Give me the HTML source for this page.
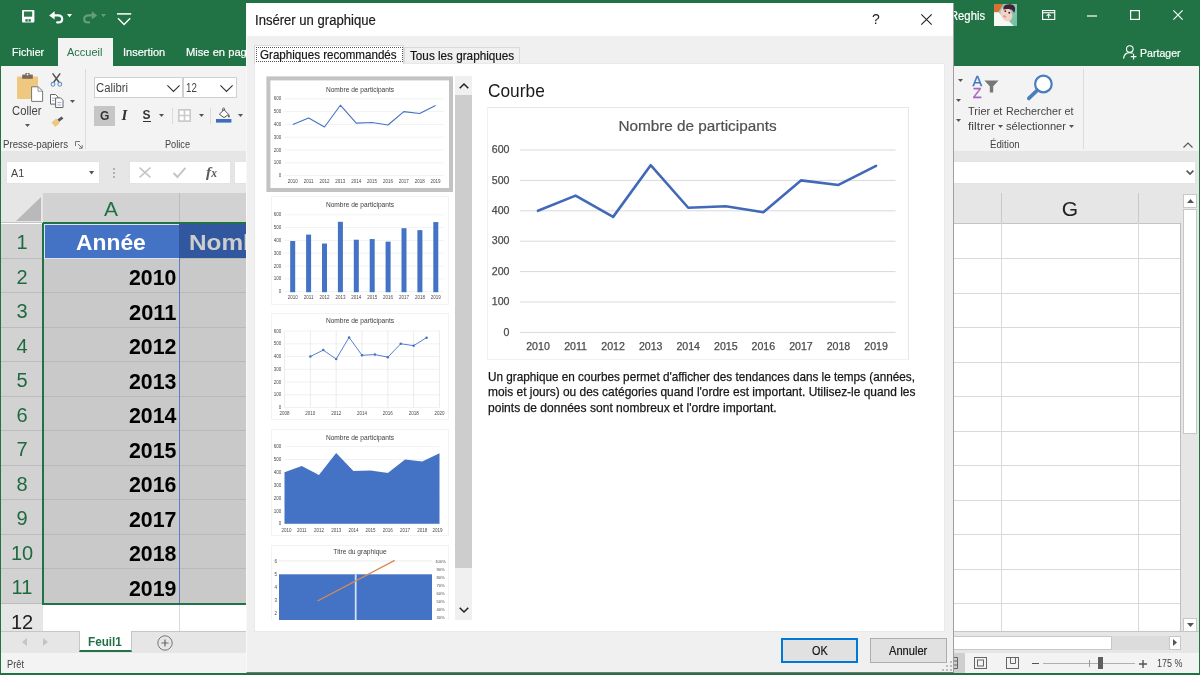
<!DOCTYPE html>
<html lang="fr">
<head>
<meta charset="utf-8">
<title>Insérer un graphique</title>
<style>
*{box-sizing:border-box;margin:0;padding:0}
html,body{width:1200px;height:675px;overflow:hidden;background:#217346;font-family:"Liberation Sans",sans-serif;}
#app{position:relative;width:1200px;height:675px;overflow:hidden;background:#217346;filter:blur(0.45px);}
.abs{position:absolute}
.t{position:absolute;white-space:nowrap;line-height:1;}
svg{position:absolute;overflow:visible}
/* ---------- Excel chrome ---------- */
#ribbon{left:1px;top:66px;width:1198px;height:85px;background:#f3f3f3}
#fbar{left:1px;top:151px;width:1198px;height:43px;background:#e6e6e6}
#tabAccueil{left:58px;top:38px;width:55px;height:29px;background:#f3f3f3}
.wt{color:#fff;font-size:12px;-webkit-text-stroke:.2px #fff}
.rt{color:#444;font-size:12px}
.vsep{position:absolute;width:1px;background:#dcdcdc}
.box{position:absolute;background:#fff;border:1px solid #d0d0d0}
/* ---------- grid ---------- */
#sheet{left:1px;top:193px;width:1198px;height:439px;background:#fff}
.colh{position:absolute;top:0;height:30.5px;background:#e6e6e6;border-right:1px solid #c9c9c9;border-bottom:1px solid #c4c4c4;color:#222;font-size:21px;text-align:center;line-height:32px}
.rowh{position:absolute;left:0;width:42px;height:34.5px;background:#d2d2d2;border-bottom:1px solid #bdbdbd;color:#217346;font-size:20px;text-align:center;line-height:36px}
.cellA{position:absolute;left:43px;width:135px;height:34.5px;background:#c9c9c9;border-bottom:1px solid #b9b9b9;font-weight:bold;font-size:21px;text-align:right;padding-right:3px;line-height:37px;color:#000}
.cellB{position:absolute;left:179px;width:80px;height:34.5px;background:#c9c9c9;border-bottom:1px solid #b9b9b9}
.hl{position:absolute;height:1px;background:#d9d9d9;left:953px;width:227px}
.vl{position:absolute;width:1px;background:#d9d9d9;top:223px;height:408px}
</style>
</head>
<body>
<div id="app">

<!-- ================= TITLE BAR ================= -->
<div class="abs" id="tabAccueil"></div>
<div class="abs" id="ribbon"></div>
<div class="abs" id="fbar"></div>

<!-- QAT icons -->
<svg style="left:21.8px;top:10.2px" width="12.4" height="12.6" viewBox="0 0 12.4 12.6"><rect x="0" y="0" width="12.4" height="12.6" rx="1" fill="#fff"/><rect x="2" y="1.5" width="8.2" height="5.2" fill="#2a7a4e"/><rect x="3.4" y="9.2" width="5.4" height="2.4" fill="#217346"/><rect x="5.7" y="9.2" width="0.9" height="2.4" fill="#fff"/></svg>
<svg style="left:48.6px;top:10.6px" width="14.4" height="12.6" viewBox="0 0 14.4 12.6"><path d="M0.2 4.4L5.6 0.2V8.6z" fill="#fff"/><path d="M4.6 4.4H8.8C11.6 4.4 13.2 6 13.2 8C13.2 10 11.8 11.4 9.4 11.4H8.2" fill="none" stroke="#fff" stroke-width="2.2" stroke-linecap="round"/></svg>
<svg style="left:67.4px;top:14px" width="5" height="3.2" viewBox="0 0 5 3.2"><path d="M0 0h5l-2.5 3.2z" fill="#fff"/></svg>
<svg style="left:82.6px;top:10.6px;opacity:.3" width="14.4" height="12.6" viewBox="0 0 14.4 12.6"><path d="M14.2 4.4L8.8 0.2V8.6z" fill="#fff"/><path d="M9.8 4.4H5.6C2.8 4.4 1.2 6 1.2 8C1.2 10 2.6 11.4 5 11.4H6.2" fill="none" stroke="#fff" stroke-width="2.2" stroke-linecap="round"/></svg>
<svg style="left:101px;top:14px;opacity:.3" width="5" height="3.2" viewBox="0 0 5 3.2"><path d="M0 0h5l-2.5 3.2z" fill="#fff"/></svg>
<svg style="left:117px;top:12px" width="15" height="14" viewBox="0 0 15 14"><path d="M0 1.9h14.2" stroke="#fff" stroke-width="1.5"/><path d="M1 6.2l6.1 6.2L13.2 6.2" fill="none" stroke="#fff" stroke-width="1.4"/></svg>

<!-- ribbon tab names -->
<div class="t wt" style="left:12px;top:47px;font-size:11.5px;transform:scaleX(0.9331);transform-origin:0 0">Fichier</div>
<div class="t" style="left:67px;top:47px;font-size:11.5px;color:#217346;transform:scaleX(0.9576);transform-origin:0 0">Accueil</div>
<div class="t wt" style="left:123.3px;top:47px;font-size:11.5px;transform:scaleX(0.9567);transform-origin:0 0">Insertion</div>
<div class="t wt" style="left:186px;top:47px;font-size:11.5px;transform:scaleX(0.9704);transform-origin:0 0">Mise en page</div>

<!-- right side of title bar -->
<div class="t wt" style="left:950px;top:10px;font-size:12px;transform:scaleX(0.9370);transform-origin:0 0">Reghis</div>
<svg id="avatar" style="left:994px;top:3.8px;overflow:hidden" width="23" height="22.2" viewBox="0 0 23 22.2">
<defs><linearGradient id="avg" x1="0" y1="0" x2="1" y2="1"><stop offset="0" stop-color="#9ed0b4"/><stop offset="1" stop-color="#6fbfa6"/></linearGradient><filter id="avb" x="-10%" y="-10%" width="120%" height="120%"><feGaussianBlur stdDeviation="0.55"/></filter></defs>
<rect width="23" height="22.2" fill="url(#avg)"/>
<g filter="url(#avb)">
<path d="M0 0H9.5L4 8.4H0z" fill="#db6f35"/>
<path d="M0 8.2H4.5L8 12L19.5 22.2H0z" fill="#f6faf2"/>
<path d="M4 16L12 14L20 22.2H0V18z" fill="#f6faf2"/>
<ellipse cx="12.4" cy="10.4" rx="5.5" ry="7.3" transform="rotate(-28 12.4 10.4)" fill="#f2d2c8"/>
<path d="M9.4 3.6C10 0 17.8 -0.8 20.4 2.2C21.6 4.2 21.2 7.4 20 9C19.4 6.6 17.8 5.4 15.2 5C13 4.8 10.8 5 9.4 5.8z" fill="#43203a"/>
<circle cx="11.3" cy="7.1" r=".95" fill="#4a1f2c"/><circle cx="15.3" cy="8.8" r=".95" fill="#4a1f2c"/>
<ellipse cx="10.6" cy="12.4" rx="1.6" ry="1" transform="rotate(25 10.6 12.4)" fill="#dc8f8f"/>
</g></svg>
<svg style="left:1042px;top:10px" width="13.3" height="10" viewBox="0 0 14 11" preserveAspectRatio="none"><rect x="0.6" y="0.6" width="12.8" height="9.8" fill="none" stroke="#fff" stroke-width="1.2"/><path d="M0.6 3h12.8" stroke="#fff" stroke-width="1.2"/><path d="M7 9V4.6M4.8 6.6L7 4.4L9.2 6.6" fill="none" stroke="#fff" stroke-width="1.1"/></svg>
<svg style="left:1087px;top:15px" width="10" height="2" viewBox="0 0 10 2"><path d="M0 1h10" stroke="#fff" stroke-width="1.2"/></svg>
<svg style="left:1130px;top:10px" width="10" height="10" viewBox="0 0 10 10"><rect x="0.6" y="0.6" width="8.8" height="8.8" fill="none" stroke="#fff" stroke-width="1.2"/></svg>
<svg style="left:1173px;top:10px" width="10" height="10" viewBox="0 0 10 10"><path d="M0.4 0.4L9.6 9.6M9.6 0.4L0.4 9.6" stroke="#fff" stroke-width="1.2"/></svg>
<!-- Partager -->
<svg style="left:1123px;top:45px" width="14" height="15" viewBox="0 0 14 15"><circle cx="6.8" cy="4" r="3.3" fill="none" stroke="#fff" stroke-width="1.1"/><path d="M0.6 13.6C1 9.6 3.4 7.6 6.8 7.6C8 7.6 9 7.9 9.8 8.4" fill="none" stroke="#fff" stroke-width="1.1"/><path d="M10.6 8.8v5.6M7.8 11.6h5.6" stroke="#fff" stroke-width="1.1"/></svg>
<div class="t wt" style="left:1140.4px;top:47.5px;font-size:11.8px;transform:scaleX(0.8970);transform-origin:0 0">Partager</div>

<!-- ================= RIBBON LEFT ================= -->
<div id="rib-left">
<!-- paste -->
<svg style="left:17px;top:73px" width="27" height="30" viewBox="0 0 27 30"><rect x="0" y="3.4" width="21" height="22.6" rx="1" fill="#eec87e"/><rect x="5.2" y="1.6" width="10.6" height="4.2" fill="#7b6a58"/><rect x="8.4" y="0" width="4.2" height="3" fill="#7b6a58"/><path d="M14.6 13.8h6.6l4.4 4.2v10.4h-11z" fill="#fff" stroke="#777" stroke-width="1"/><path d="M21 14v4.2h4.4" fill="none" stroke="#888" stroke-width=".9"/><circle cx="10.5" cy="1.6" r="1" fill="#f3f3f3"/></svg>
<div class="t rt" style="left:12.4px;top:105px;font-size:12.5px;transform:scaleX(0.9005);transform-origin:0 0">Coller</div>
<svg style="left:25px;top:124px" width="5" height="3" viewBox="0 0 5 3"><path d="M0 0h5l-2.5 3z" fill="#555"/></svg>
<!-- scissors -->
<svg style="left:50px;top:73px" width="13" height="14" viewBox="0 0 13 14"><path d="M2.6 0.4L9.4 9.8M10.2 0.4L3.4 9.8" stroke="#505050" stroke-width="1.5" fill="none"/><circle cx="3" cy="11.3" r="1.9" fill="none" stroke="#6494cf" stroke-width="1.1"/><circle cx="9.8" cy="11.3" r="1.9" fill="none" stroke="#6494cf" stroke-width="1.1"/></svg>
<!-- copy -->
<svg style="left:50px;top:94px" width="14" height="14" viewBox="0 0 14 14"><path d="M0.5 0.5h5l2.4 2.4v7.2h-7.4z" fill="#fff" stroke="#666" stroke-width="1"/><path d="M5.6 3.9h5l2.4 2.4v7.2h-7.4z" fill="#fff" stroke="#666" stroke-width="1"/><path d="M2 4.2h3M2 6.6h2.4M7.4 8.6h3.8M7.4 11h3.8" stroke="#7e98c2" stroke-width=".8"/></svg>
<svg style="left:70px;top:100px" width="5" height="3" viewBox="0 0 5 3"><path d="M0 0h5l-2.5 3z" fill="#555"/></svg>
<!-- painter -->
<svg style="left:51px;top:116px" width="13" height="12" viewBox="0 0 13 12"><path d="M0.4 6.4L5.2 2.4L9 7L4.2 11z" fill="#eec87e"/><path d="M6.4 3.6L10.6 0.4L12.4 2.6L8.2 5.8z" fill="#555"/></svg>
<div class="t rt" style="left:3px;top:139px;font-size:10.6px;transform:scaleX(0.9118);transform-origin:0 0">Presse-papiers</div>
<svg style="left:75px;top:141px" width="8" height="8" viewBox="0 0 8 8"><path d="M0.5 5V0.5H5" fill="none" stroke="#777" stroke-width="1"/><path d="M3 3l4 4M7.2 4v3.2H4" fill="none" stroke="#777" stroke-width="1"/></svg>
<div class="vsep" style="left:85px;top:69px;height:80px"></div>
<!-- font boxes -->
<div class="box" style="left:94px;top:77px;width:89px;height:21px"></div>
<div class="box" style="left:183px;top:77px;width:54px;height:21px"></div>
<div class="t rt" style="left:96px;top:82px;font-size:12px;transform:scaleX(0.9409);transform-origin:0 0">Calibri</div>
<svg style="left:167px;top:85px" width="13" height="7" viewBox="0 0 13 7"><path d="M0.4 0.4L6.5 6.4L12.6 0.4" fill="none" stroke="#333" stroke-width="1.1"/></svg>
<div class="t rt" style="left:186px;top:82px;font-size:12px;transform:scaleX(0.8091);transform-origin:0 0">12</div>
<svg style="left:220px;top:85px" width="13" height="7" viewBox="0 0 13 7"><path d="M0.4 0.4L6.5 6.4L12.6 0.4" fill="none" stroke="#333" stroke-width="1.1"/></svg>
<!-- G I S -->
<div class="abs" style="left:94px;top:106px;width:21px;height:20px;background:#c6c6c6"></div>
<div class="t" style="left:100px;top:110px;font-size:12px;font-weight:bold;color:#333">G</div>
<div class="t" style="left:121.5px;top:108px;font-size:15px;font-weight:bold;font-style:italic;color:#333;font-family:'Liberation Serif',serif">I</div>
<div class="t" style="left:142.5px;top:110px;font-size:12px;font-weight:bold;color:#333;border-bottom:1px solid #333;padding-bottom:0;line-height:.92">S</div>
<svg style="left:159px;top:114px" width="5" height="3" viewBox="0 0 5 3"><path d="M0 0h5l-2.5 3z" fill="#555"/></svg>
<div class="vsep" style="left:172px;top:108px;height:16px"></div>
<svg style="left:178px;top:109px" width="13" height="13" viewBox="0 0 13 13"><path d="M0.8 0.8h11.4v11.4h-11.4zM6.5 0.8v11.4M0.8 6.5h11.4" fill="#fff" stroke="#cbcbcb" stroke-width="1.7"/></svg>
<svg style="left:199px;top:114px" width="5" height="3" viewBox="0 0 5 3"><path d="M0 0h5l-2.5 3z" fill="#555"/></svg>
<div class="vsep" style="left:210px;top:108px;height:16px"></div>
<svg style="left:216px;top:108px" width="16" height="15" viewBox="0 0 16 15"><rect x="0" y="11" width="15.4" height="3.6" fill="#3d6cc0"/><path d="M3.4 6.2L8 1.8L12.6 6.4L8 9.6z" fill="#fff" stroke="#555" stroke-width="1"/><path d="M6.6 3.2V0.8C6.6 -0.2 8.6 -0.2 8.6 0.8V2.4" fill="none" stroke="#555" stroke-width=".9"/><path d="M12.8 6.2C13.8 7.6 14.2 8.4 13.4 9.2C12.6 9.8 11.8 9 12 8z" fill="#555"/></svg>
<svg style="left:238px;top:114px" width="5" height="3" viewBox="0 0 5 3"><path d="M0 0h5l-2.5 3z" fill="#555"/></svg>
<div class="t rt" style="left:165px;top:139px;font-size:10.6px;transform:scaleX(0.8659);transform-origin:0 0">Police</div>
</div>

<!-- ================= RIBBON RIGHT ================= -->
<div id="rib-right">
<svg style="left:958px;top:79px" width="5" height="3" viewBox="0 0 5 3"><path d="M0 0h5l-2.5 3z" fill="#555"/></svg>
<svg style="left:956px;top:99px" width="5" height="3" viewBox="0 0 5 3"><path d="M0 0h5l-2.5 3z" fill="#555"/></svg>
<svg style="left:956px;top:119px" width="5" height="3" viewBox="0 0 5 3"><path d="M0 0h5l-2.5 3z" fill="#555"/></svg>
<div class="t" style="left:972.4px;top:73.5px;font-size:14.5px;color:#4478c0;-webkit-text-stroke:.35px #4478c0">A</div>
<div class="t" style="left:972.8px;top:86.3px;font-size:14.5px;color:#a866c4;-webkit-text-stroke:.35px #a866c4">Z</div>
<svg style="left:984px;top:80px" width="15" height="13" viewBox="0 0 15 13"><path d="M0.4 0.4h14.2l-5.4 5.8v6.2h-3.4v-6.2z" fill="#777"/></svg>
<svg style="left:1027px;top:74px" width="27" height="27" viewBox="0 0 27 27"><circle cx="16.4" cy="10" r="8.3" fill="#fff" stroke="#4a7dbd" stroke-width="2.2"/><path d="M10.2 16.4L1.8 24.4" stroke="#4a7dbd" stroke-width="3.6" stroke-linecap="round"/></svg>
<div class="t rt" style="left:968px;top:105.5px;font-size:11.8px;transform:scaleX(0.9314);transform-origin:0 0">Trier et</div>
<div class="t rt" style="left:1005.8px;top:105.5px;font-size:11.8px;transform:scaleX(0.9107);transform-origin:0 0">Rechercher et</div>
<div class="t rt" style="left:968px;top:120.5px;font-size:11.8px;transform:scaleX(1.0296);transform-origin:0 0">filtrer</div>
<svg style="left:998px;top:125px" width="5" height="3" viewBox="0 0 5 3"><path d="M0 0h5l-2.5 3z" fill="#555"/></svg>
<div class="t rt" style="left:1005.8px;top:120.5px;font-size:11.8px;transform:scaleX(0.9430);transform-origin:0 0">sélectionner</div>
<svg style="left:1069px;top:125px" width="5" height="3" viewBox="0 0 5 3"><path d="M0 0h5l-2.5 3z" fill="#555"/></svg>
<div class="t rt" style="left:990.3px;top:139px;font-size:10.6px;transform:scaleX(0.9163);transform-origin:0 0">Édition</div>
<div class="vsep" style="left:1083px;top:69px;height:80px"></div>
<svg style="left:1183px;top:142px" width="10" height="6" viewBox="0 0 10 6"><path d="M0.5 5.5L5 1L9.5 5.5" fill="none" stroke="#555" stroke-width="1.1"/></svg>
</div>

<!-- ================= FORMULA BAR ================= -->
<div id="formula">
<div class="box" style="left:5.8px;top:161px;width:94.4px;height:22.5px;border-color:#e3e3e3"></div>
<div class="t" style="left:10.8px;top:167.5px;font-size:11.5px;color:#444;transform:scaleX(0.9384);transform-origin:0 0">A1</div>
<svg style="left:88.5px;top:171px" width="5.2" height="3.4" viewBox="0 0 5.2 3.4"><path d="M0 0h5.2l-2.6 3.4z" fill="#555"/></svg>
<svg style="left:113px;top:168px" width="2" height="10" viewBox="0 0 2 10"><circle cx="1" cy="1" r=".9" fill="#999"/><circle cx="1" cy="5" r=".9" fill="#999"/><circle cx="1" cy="9" r=".9" fill="#999"/></svg>
<div class="box" style="left:128.6px;top:161px;width:102px;height:22.5px;border-color:#e3e3e3"></div>
<svg style="left:139px;top:167px" width="12" height="11" viewBox="0 0 12 11"><path d="M0.6 0.6L11.4 10.4M11.4 0.6L0.6 10.4" stroke="#c4c4c4" stroke-width="1.5"/></svg>
<svg style="left:173px;top:167px" width="13" height="11" viewBox="0 0 13 11"><path d="M0.6 6L4.4 10L12.4 0.8" fill="none" stroke="#c4c4c4" stroke-width="1.9"/></svg>
<div class="t" style="left:206px;top:163.5px;font-size:15.5px;font-style:italic;font-weight:bold;color:#5a5a5a;font-family:'Liberation Serif',serif">f<span style="font-size:11.5px">x</span></div>
<div class="box" style="left:233.6px;top:161px;width:962px;height:22.5px;border-color:#e3e3e3"></div>
<svg style="left:1193px;top:170px;display:none" width="6" height="4"></svg>
<svg style="left:1186px;top:170px" width="8" height="5" viewBox="0 0 8 5"><path d="M0.6 0.6L4 4L7.4 0.6" fill="none" stroke="#555" stroke-width="1.6"/></svg>
</div>

<!-- ================= SHEET ================= -->
<div class="abs" id="sheet">
  <!-- corner -->
  <div class="abs" style="left:0;top:0;width:42px;height:30px;background:#e6e6e6;border-bottom:1px solid #c4c4c4"></div>
  <svg style="left:15px;top:4px" width="25" height="24" viewBox="0 0 25 24"><path d="M25 0V24H0z" fill="#b9b9b9"/></svg>
  <div class="colh" style="left:42px;width:137px;background:#d2d2d2;color:#217346;border-right-color:#bcbcbc">A</div>
  <div class="colh" style="left:179px;width:136px;background:#d2d2d2;color:#217346"></div>
  <div class="colh" style="left:952px;width:49px"></div>
  <div class="colh" style="left:1001px;width:137px">G</div>
  <div class="colh" style="left:1138px;width:42px;border-right:none"></div>
</div>
<div class="rowh" style="left:1px;top:224.4px;background:#d2d2d2;color:#1e6a40">1</div>
<div class="abs" style="top:224.0px;left:44px;width:135px;height:34.9px;background:#dde3ee"></div>
<div class="cellA" style="top:225.20000000000002px;left:45px;width:134px;height:33px;background:#4472c4;border-bottom:none"></div>
<div class="t" style="left:76px;top:232.0px;font-size:22px;font-weight:bold;color:#fff;transform:scaleX(1.0381);transform-origin:0 0">Année</div>
<div class="cellB" style="top:224.4px;left:179px;background:#31589f;border-bottom:1px solid #b9b9b9"></div>
<div class="t" style="left:189px;top:232.0px;font-size:22px;font-weight:bold;color:#cdcdcd;transform:scaleX(1.1068);transform-origin:0 0">Nombre</div>
<div class="rowh" style="left:1px;top:258.9px;background:#d2d2d2;color:#1e6a40">2</div>
<div class="cellA" style="top:258.9px;left:44px;width:135px"></div>
<div class="t" style="left:128.5px;top:267.09999999999997px;font-size:22px;font-weight:bold;color:#000;transform:scaleX(0.9705);transform-origin:0 0">2010</div>
<div class="cellB" style="top:258.9px;left:180px"></div>
<div class="rowh" style="left:1px;top:293.4px;background:#d2d2d2;color:#1e6a40">3</div>
<div class="cellA" style="top:293.4px;left:44px;width:135px"></div>
<div class="t" style="left:128.5px;top:301.59999999999997px;font-size:22px;font-weight:bold;color:#000;transform:scaleX(0.9952);transform-origin:0 0">2011</div>
<div class="cellB" style="top:293.4px;left:180px"></div>
<div class="rowh" style="left:1px;top:327.9px;background:#d2d2d2;color:#1e6a40">4</div>
<div class="cellA" style="top:327.9px;left:44px;width:135px"></div>
<div class="t" style="left:128.5px;top:336.09999999999997px;font-size:22px;font-weight:bold;color:#000;transform:scaleX(0.9705);transform-origin:0 0">2012</div>
<div class="cellB" style="top:327.9px;left:180px"></div>
<div class="rowh" style="left:1px;top:362.4px;background:#d2d2d2;color:#1e6a40">5</div>
<div class="cellA" style="top:362.4px;left:44px;width:135px"></div>
<div class="t" style="left:128.5px;top:370.59999999999997px;font-size:22px;font-weight:bold;color:#000;transform:scaleX(0.9705);transform-origin:0 0">2013</div>
<div class="cellB" style="top:362.4px;left:180px"></div>
<div class="rowh" style="left:1px;top:396.9px;background:#d2d2d2;color:#1e6a40">6</div>
<div class="cellA" style="top:396.9px;left:44px;width:135px"></div>
<div class="t" style="left:128.5px;top:405.09999999999997px;font-size:22px;font-weight:bold;color:#000;transform:scaleX(0.9705);transform-origin:0 0">2014</div>
<div class="cellB" style="top:396.9px;left:180px"></div>
<div class="rowh" style="left:1px;top:431.4px;background:#d2d2d2;color:#1e6a40">7</div>
<div class="cellA" style="top:431.4px;left:44px;width:135px"></div>
<div class="t" style="left:128.5px;top:439.59999999999997px;font-size:22px;font-weight:bold;color:#000;transform:scaleX(0.9705);transform-origin:0 0">2015</div>
<div class="cellB" style="top:431.4px;left:180px"></div>
<div class="rowh" style="left:1px;top:465.9px;background:#d2d2d2;color:#1e6a40">8</div>
<div class="cellA" style="top:465.9px;left:44px;width:135px"></div>
<div class="t" style="left:128.5px;top:474.09999999999997px;font-size:22px;font-weight:bold;color:#000;transform:scaleX(0.9705);transform-origin:0 0">2016</div>
<div class="cellB" style="top:465.9px;left:180px"></div>
<div class="rowh" style="left:1px;top:500.4px;background:#d2d2d2;color:#1e6a40">9</div>
<div class="cellA" style="top:500.4px;left:44px;width:135px"></div>
<div class="t" style="left:128.5px;top:508.59999999999997px;font-size:22px;font-weight:bold;color:#000;transform:scaleX(0.9705);transform-origin:0 0">2017</div>
<div class="cellB" style="top:500.4px;left:180px"></div>
<div class="rowh" style="left:1px;top:534.9px;background:#d2d2d2;color:#1e6a40">10</div>
<div class="cellA" style="top:534.9px;left:44px;width:135px"></div>
<div class="t" style="left:128.5px;top:543.1px;font-size:22px;font-weight:bold;color:#000;transform:scaleX(0.9705);transform-origin:0 0">2018</div>
<div class="cellB" style="top:534.9px;left:180px"></div>
<div class="rowh" style="left:1px;top:569.4px;background:#d2d2d2;color:#1e6a40">11</div>
<div class="cellA" style="top:569.4px;left:44px;width:135px"></div>
<div class="t" style="left:128.5px;top:577.6px;font-size:22px;font-weight:bold;color:#000;transform:scaleX(0.9705);transform-origin:0 0">2019</div>
<div class="cellB" style="top:569.4px;left:180px"></div>
<div class="rowh" style="left:1px;top:603.9px;background:#e6e6e6;color:#222">12</div>
<div class="abs" style="left:43px;top:603.9px;width:220px;height:30px;background:#fff"></div>
<div class="abs" style="left:179px;top:258px;width:1px;height:345px;background:#5b7fc4"></div>
<div class="abs" style="left:179px;top:605px;width:1px;height:27px;background:#d9d9d9"></div>
<div class="abs" style="left:42.2px;top:222.6px;width:1.6px;height:382px;background:#217346"></div>
<div class="abs" style="left:42.6px;top:222.4px;width:220px;height:1.5px;background:#217346"></div>
<div class="abs" style="left:42.6px;top:603.2px;width:220px;height:1.6px;background:#217346"></div>
<div class="hl" style="top:258.4px"></div>
<div class="hl" style="top:292.9px"></div>
<div class="hl" style="top:327.4px"></div>
<div class="hl" style="top:361.9px"></div>
<div class="hl" style="top:396.4px"></div>
<div class="hl" style="top:430.9px"></div>
<div class="hl" style="top:465.4px"></div>
<div class="hl" style="top:499.9px"></div>
<div class="hl" style="top:534.4px"></div>
<div class="hl" style="top:568.9px"></div>
<div class="hl" style="top:603.4px"></div>
<div class="vl" style="left:1001px"></div>
<div class="vl" style="left:1138px"></div>
<div class="vl" style="left:1180px;background:#bdbdbd"></div>
<div class="abs" style="left:1181px;top:193px;width:18px;height:439px;background:#e6e6e6"></div>
<div class="abs" style="left:1183px;top:194px;width:14px;height:14px;background:#fff;border:1px solid #c8c8c8"></div>
<svg style="left:1186.5px;top:199px" width="7" height="4" viewBox="0 0 7 4"><path d="M0 4h7L3.5 0z" fill="#555"/></svg>
<div class="abs" style="left:1183px;top:209px;width:14px;height:225px;background:#fff;border:1px solid #c8c8c8"></div>
<div class="abs" style="left:1183px;top:618px;width:14px;height:14px;background:#fff;border:1px solid #c8c8c8"></div>
<svg style="left:1186.5px;top:623px" width="7" height="4" viewBox="0 0 7 4"><path d="M0 0h7L3.5 4z" fill="#555"/></svg>
<div class="abs" style="left:1px;top:631px;width:1198px;height:22px;background:#e6e6e6;border-top:1px solid #c6c6c6"></div>
<div class="abs" style="left:79px;top:631px;width:53px;height:21px;background:#fff;border-bottom:2px solid #217346;border-left:1px solid #c6c6c6;border-right:1px solid #c6c6c6"></div>
<div class="t" style="left:88px;top:635.5px;font-size:12px;font-weight:bold;color:#217346;transform:scaleX(0.9776);transform-origin:0 0">Feuil1</div>
<svg style="left:22px;top:638px" width="5" height="8" viewBox="0 0 5 8"><path d="M5 0v8L0 4z" fill="#c4c4c4"/></svg>
<svg style="left:43px;top:638px" width="5" height="8" viewBox="0 0 5 8"><path d="M0 0v8L5 4z" fill="#c4c4c4"/></svg>
<svg style="left:156.5px;top:635px" width="16" height="16" viewBox="0 0 16 16"><circle cx="8" cy="8" r="7.2" fill="none" stroke="#777" stroke-width="1"/><path d="M8 4.4v7.2M4.4 8h7.2" stroke="#666" stroke-width="1.2"/></svg>
<div class="abs" style="left:953px;top:636px;width:159px;height:14px;background:#fff;border:1px solid #c8c8c8"></div>
<div class="abs" style="left:1112px;top:636px;width:57px;height:14px;background:#dcdcdc"></div>
<div class="abs" style="left:1169px;top:636px;width:12px;height:14px;background:#fff;border:1px solid #c8c8c8"></div>
<svg style="left:1173px;top:639px" width="4" height="7" viewBox="0 0 4 7"><path d="M0 0v7L4 3.5z" fill="#555"/></svg>
<div class="abs" style="left:1px;top:653px;width:1198px;height:20px;background:#f3f3f3"></div>
<div class="t" style="left:6.9px;top:659.8px;font-size:10.2px;color:#444;transform:scaleX(0.9087);transform-origin:0 0">Prêt</div>
<div class="abs" style="left:945px;top:653px;width:20px;height:20px;background:#cfcfcf"></div>
<svg style="left:953px;top:657px" width="5" height="12" viewBox="0 0 5 12"><path d="M0 0.5h4.5v11h-4.5M0 4h4.5M0 8h4.5" fill="none" stroke="#666" stroke-width="1"/></svg>
<svg style="left:974px;top:657px" width="13" height="12" viewBox="0 0 13 12"><rect x="0.5" y="0.5" width="12" height="11" fill="none" stroke="#666" stroke-width="1"/><rect x="3.5" y="3" width="6" height="6" fill="none" stroke="#666" stroke-width="1"/></svg>
<svg style="left:1005.5px;top:657px" width="13" height="12" viewBox="0 0 13 12"><rect x="0.5" y="0.5" width="12" height="11" fill="none" stroke="#666" stroke-width="1"/><path d="M4.5 0.5v6h5v-6" fill="none" stroke="#666" stroke-width="1"/></svg>
<div class="abs" style="left:1032px;top:662.6px;width:7px;height:1.8px;background:#555"></div>
<div class="abs" style="left:1043px;top:663px;width:92px;height:1px;background:#b0b0b0"></div>
<div class="abs" style="left:1089px;top:660px;width:1px;height:7px;background:#9a9a9a"></div>
<div class="abs" style="left:1098.4px;top:657px;width:4.4px;height:12px;background:#5e5e5e"></div>
<svg style="left:1139px;top:660px" width="8" height="8" viewBox="0 0 8 8"><path d="M4 0v8M0 4h8" stroke="#555" stroke-width="1.4"/></svg>
<div class="t" style="left:1156.6px;top:659px;font-size:10.2px;color:#444;transform:scaleX(0.8782);transform-origin:0 0">175 %</div>
<div class="abs" style="left:0;top:673px;width:1200px;height:2px;background:#217346"></div>
<div class="abs" id="dlg" style="left:246px;top:3px;width:708px;height:669.5px;background:#f0f0f0;border:1px solid #a0a0a0;border-top:none;border-left-color:#f8f8f8;border-bottom-color:#777"></div>
<div class="abs" style="left:247px;top:3px;width:706px;height:33px;background:#fff"></div>
<div class="t" style="left:255px;top:13.5px;font-size:13.8px;color:#1c1c1c;-webkit-text-stroke:.2px #1c1c1c;transform:scaleX(0.9481);transform-origin:0 0">Insérer un graphique</div>
<div class="t" style="left:872px;top:12px;font-size:14px;color:#222">?</div>
<svg style="left:921px;top:14px" width="11" height="11" viewBox="0 0 11 11"><path d="M0.3 0.3L10.7 10.7M10.7 0.3L0.3 10.7" stroke="#222" stroke-width="1.1"/></svg>
<div class="abs" style="left:254px;top:63px;width:691px;height:569px;background:#fff;border:1px solid #e9e9e9"></div>
<div class="abs" style="left:254px;top:45px;width:150px;height:19px;background:#fff;border:1px solid #dadada;border-bottom:none"></div>
<div class="abs" style="left:255.5px;top:46.5px;width:147px;height:15.5px;border:1px dotted #555"></div>
<div class="abs" style="left:404px;top:47px;width:116px;height:16px;background:#f0f0f0;border:1px solid #dadada;border-bottom:none"></div>
<div class="t" style="left:259.5px;top:48.5px;font-size:12.2px;color:#111;-webkit-text-stroke:.2px #222;transform:scaleX(0.9512);transform-origin:0 0">Graphiques recommandés</div>
<div class="t" style="left:409.5px;top:50px;font-size:12.2px;color:#111;-webkit-text-stroke:.2px #222;transform:scaleX(0.9607);transform-origin:0 0">Tous les graphiques</div>
<svg style="left:262px;top:72px;overflow:hidden" width="192" height="548" viewBox="0 0 192 548" font-family="Liberation Sans, sans-serif">
<rect x="6.4" y="6.4" width="182.6" height="111.6" fill="#fff" stroke="#c3c3c3" stroke-width="4"/>
<text x="98" y="19.5" font-size="6.6" fill="#404040" text-anchor="middle">Nombre de participants</text>
<text x="19.3" y="28.400000000000002" font-size="4.5" fill="#4a4a4a" text-anchor="end">600</text>
<text x="19.3" y="41.2" font-size="4.5" fill="#4a4a4a" text-anchor="end">500</text>
<text x="19.3" y="54.0" font-size="4.5" fill="#4a4a4a" text-anchor="end">400</text>
<text x="19.3" y="66.8" font-size="4.5" fill="#4a4a4a" text-anchor="end">300</text>
<text x="19.3" y="79.6" font-size="4.5" fill="#4a4a4a" text-anchor="end">200</text>
<text x="19.3" y="92.39999999999999" font-size="4.5" fill="#4a4a4a" text-anchor="end">100</text>
<text x="19.3" y="105.19999999999999" font-size="4.5" fill="#4a4a4a" text-anchor="end">0</text>
<path d="M22 26.8H182" stroke="#ececec" stroke-width=".7"/>
<path d="M22 39.6H182" stroke="#ececec" stroke-width=".7"/>
<path d="M22 52.4H182" stroke="#ececec" stroke-width=".7"/>
<path d="M22 65.2H182" stroke="#ececec" stroke-width=".7"/>
<path d="M22 78.0H182" stroke="#ececec" stroke-width=".7"/>
<path d="M22 90.8H182" stroke="#ececec" stroke-width=".7"/>
<path d="M22 103.6H182" stroke="#ececec" stroke-width=".7"/>
<polyline points="30.8,52.4 46.66,46.0 62.52,54.96 78.38,33.2 94.24,51.12 110.1,50.48 125.96,53.04 141.82,39.6 157.68,41.52 173.54,33.46" fill="none" stroke="#4472c4" stroke-width="1.1" stroke-linejoin="round"/>
<text x="30.8" y="111.39999999999999" font-size="4.5" fill="#4a4a4a" text-anchor="middle">2010</text>
<text x="46.66" y="111.39999999999999" font-size="4.5" fill="#4a4a4a" text-anchor="middle">2011</text>
<text x="62.52" y="111.39999999999999" font-size="4.5" fill="#4a4a4a" text-anchor="middle">2012</text>
<text x="78.38" y="111.39999999999999" font-size="4.5" fill="#4a4a4a" text-anchor="middle">2013</text>
<text x="94.24" y="111.39999999999999" font-size="4.5" fill="#4a4a4a" text-anchor="middle">2014</text>
<text x="110.1" y="111.39999999999999" font-size="4.5" fill="#4a4a4a" text-anchor="middle">2015</text>
<text x="125.96" y="111.39999999999999" font-size="4.5" fill="#4a4a4a" text-anchor="middle">2016</text>
<text x="141.82" y="111.39999999999999" font-size="4.5" fill="#4a4a4a" text-anchor="middle">2017</text>
<text x="157.68" y="111.39999999999999" font-size="4.5" fill="#4a4a4a" text-anchor="middle">2018</text>
<text x="173.54" y="111.39999999999999" font-size="4.5" fill="#4a4a4a" text-anchor="middle">2019</text>
<rect x="9.5" y="124.5" width="177" height="108" fill="#fff" stroke="#f3f3f3" stroke-width="1"/>
<text x="98" y="135.2" font-size="6.6" fill="#404040" text-anchor="middle">Nombre de participants</text>
<text x="19.3" y="144.4" font-size="4.5" fill="#4a4a4a" text-anchor="end">600</text>
<text x="19.3" y="157.2" font-size="4.5" fill="#4a4a4a" text-anchor="end">500</text>
<text x="19.3" y="170.0" font-size="4.5" fill="#4a4a4a" text-anchor="end">400</text>
<text x="19.3" y="182.79999999999998" font-size="4.5" fill="#4a4a4a" text-anchor="end">300</text>
<text x="19.3" y="195.6" font-size="4.5" fill="#4a4a4a" text-anchor="end">200</text>
<text x="19.3" y="208.4" font-size="4.5" fill="#4a4a4a" text-anchor="end">100</text>
<text x="19.3" y="221.2" font-size="4.5" fill="#4a4a4a" text-anchor="end">0</text>
<path d="M22 142.8H182" stroke="#ececec" stroke-width=".7"/>
<path d="M22 155.6H182" stroke="#ececec" stroke-width=".7"/>
<path d="M22 168.4H182" stroke="#ececec" stroke-width=".7"/>
<path d="M22 181.2H182" stroke="#ececec" stroke-width=".7"/>
<path d="M22 194.0H182" stroke="#ececec" stroke-width=".7"/>
<path d="M22 206.8H182" stroke="#ececec" stroke-width=".7"/>
<path d="M22 219.6H182" stroke="#ececec" stroke-width=".7"/>
<rect x="28.2" y="169.0" width="5" height="51.20" fill="#4472c4"/>
<rect x="44.1" y="162.6" width="5" height="57.60" fill="#4472c4"/>
<rect x="60.0" y="171.56" width="5" height="48.64" fill="#4472c4"/>
<rect x="75.9" y="149.8" width="5" height="70.40" fill="#4472c4"/>
<rect x="91.8" y="167.72" width="5" height="52.48" fill="#4472c4"/>
<rect x="107.7" y="167.08" width="5" height="53.12" fill="#4472c4"/>
<rect x="123.6" y="169.64" width="5" height="50.56" fill="#4472c4"/>
<rect x="139.5" y="156.2" width="5" height="64.00" fill="#4472c4"/>
<rect x="155.4" y="158.12" width="5" height="62.08" fill="#4472c4"/>
<rect x="171.3" y="150.06" width="5" height="70.14" fill="#4472c4"/>
<text x="30.7" y="226.9" font-size="4.5" fill="#4a4a4a" text-anchor="middle">2010</text>
<text x="46.6" y="226.9" font-size="4.5" fill="#4a4a4a" text-anchor="middle">2011</text>
<text x="62.5" y="226.9" font-size="4.5" fill="#4a4a4a" text-anchor="middle">2012</text>
<text x="78.4" y="226.9" font-size="4.5" fill="#4a4a4a" text-anchor="middle">2013</text>
<text x="94.3" y="226.9" font-size="4.5" fill="#4a4a4a" text-anchor="middle">2014</text>
<text x="110.2" y="226.9" font-size="4.5" fill="#4a4a4a" text-anchor="middle">2015</text>
<text x="126.1" y="226.9" font-size="4.5" fill="#4a4a4a" text-anchor="middle">2016</text>
<text x="142.0" y="226.9" font-size="4.5" fill="#4a4a4a" text-anchor="middle">2017</text>
<text x="157.9" y="226.9" font-size="4.5" fill="#4a4a4a" text-anchor="middle">2018</text>
<text x="173.8" y="226.9" font-size="4.5" fill="#4a4a4a" text-anchor="middle">2019</text>
<rect x="9.5" y="241.5" width="177" height="106" fill="#fff" stroke="#f3f3f3" stroke-width="1"/>
<text x="98" y="251.2" font-size="6.6" fill="#404040" text-anchor="middle">Nombre de participants</text>
<text x="19.3" y="260.6" font-size="4.5" fill="#4a4a4a" text-anchor="end">600</text>
<text x="19.3" y="273.35" font-size="4.5" fill="#4a4a4a" text-anchor="end">500</text>
<text x="19.3" y="286.1" font-size="4.5" fill="#4a4a4a" text-anchor="end">400</text>
<text x="19.3" y="298.85" font-size="4.5" fill="#4a4a4a" text-anchor="end">300</text>
<text x="19.3" y="311.6" font-size="4.5" fill="#4a4a4a" text-anchor="end">200</text>
<text x="19.3" y="324.35" font-size="4.5" fill="#4a4a4a" text-anchor="end">100</text>
<text x="19.3" y="337.1" font-size="4.5" fill="#4a4a4a" text-anchor="end">0</text>
<path d="M22.5 259.0H177.5" stroke="#ececec" stroke-width=".7"/>
<path d="M22.5 271.75H177.5" stroke="#ececec" stroke-width=".7"/>
<path d="M22.5 284.5H177.5" stroke="#ececec" stroke-width=".7"/>
<path d="M22.5 297.25H177.5" stroke="#ececec" stroke-width=".7"/>
<path d="M22.5 310.0H177.5" stroke="#ececec" stroke-width=".7"/>
<path d="M22.5 322.75H177.5" stroke="#ececec" stroke-width=".7"/>
<path d="M22.5 335.5H177.5" stroke="#ececec" stroke-width=".7"/>
<path d="M22.5 259V335.5" stroke="#e4e4e4" stroke-width=".7"/>
<path d="M48.33 259V335.5" stroke="#e4e4e4" stroke-width=".7"/>
<path d="M74.16 259V335.5" stroke="#e4e4e4" stroke-width=".7"/>
<path d="M99.99 259V335.5" stroke="#e4e4e4" stroke-width=".7"/>
<path d="M125.82 259V335.5" stroke="#e4e4e4" stroke-width=".7"/>
<path d="M151.65 259V335.5" stroke="#e4e4e4" stroke-width=".7"/>
<path d="M177.48 259V335.5" stroke="#e4e4e4" stroke-width=".7"/>
<polyline points="48.33,284.5 61.25,278.12 74.17,287.05 87.08,265.38 100.0,283.23 112.92,282.59 125.84,285.14 138.75,271.75 151.67,273.66 164.59,265.63" fill="none" stroke="#4472c4" stroke-width=".9" stroke-linejoin="round"/>
<circle cx="48.33" cy="284.5" r="1.25" fill="#4472c4"/>
<circle cx="61.25" cy="278.12" r="1.25" fill="#4472c4"/>
<circle cx="74.17" cy="287.05" r="1.25" fill="#4472c4"/>
<circle cx="87.08" cy="265.38" r="1.25" fill="#4472c4"/>
<circle cx="100.0" cy="283.23" r="1.25" fill="#4472c4"/>
<circle cx="112.92" cy="282.59" r="1.25" fill="#4472c4"/>
<circle cx="125.84" cy="285.14" r="1.25" fill="#4472c4"/>
<circle cx="138.75" cy="271.75" r="1.25" fill="#4472c4"/>
<circle cx="151.67" cy="273.66" r="1.25" fill="#4472c4"/>
<circle cx="164.59" cy="265.63" r="1.25" fill="#4472c4"/>
<text x="22.5" y="343.20000000000005" font-size="4.5" fill="#4a4a4a" text-anchor="middle">2008</text>
<text x="48.33" y="343.20000000000005" font-size="4.5" fill="#4a4a4a" text-anchor="middle">2010</text>
<text x="74.16" y="343.20000000000005" font-size="4.5" fill="#4a4a4a" text-anchor="middle">2012</text>
<text x="99.99" y="343.20000000000005" font-size="4.5" fill="#4a4a4a" text-anchor="middle">2014</text>
<text x="125.82" y="343.20000000000005" font-size="4.5" fill="#4a4a4a" text-anchor="middle">2016</text>
<text x="151.65" y="343.20000000000005" font-size="4.5" fill="#4a4a4a" text-anchor="middle">2018</text>
<text x="177.48" y="343.20000000000005" font-size="4.5" fill="#4a4a4a" text-anchor="middle">2020</text>
<rect x="9.5" y="357.5" width="177" height="106" fill="#fff" stroke="#f3f3f3" stroke-width="1"/>
<text x="98" y="367.59999999999997" font-size="6.6" fill="#404040" text-anchor="middle">Nombre de participants</text>
<text x="19.3" y="376.20000000000005" font-size="4.5" fill="#4a4a4a" text-anchor="end">600</text>
<text x="19.3" y="389.07000000000005" font-size="4.5" fill="#4a4a4a" text-anchor="end">500</text>
<text x="19.3" y="401.93" font-size="4.5" fill="#4a4a4a" text-anchor="end">400</text>
<text x="19.3" y="414.8" font-size="4.5" fill="#4a4a4a" text-anchor="end">300</text>
<text x="19.3" y="427.67" font-size="4.5" fill="#4a4a4a" text-anchor="end">200</text>
<text x="19.3" y="440.53000000000003" font-size="4.5" fill="#4a4a4a" text-anchor="end">100</text>
<text x="19.3" y="453.40000000000003" font-size="4.5" fill="#4a4a4a" text-anchor="end">0</text>
<path d="M22.5 374.6H177.5" stroke="#ececec" stroke-width=".7"/>
<path d="M22.5 387.47H177.5" stroke="#ececec" stroke-width=".7"/>
<path d="M22.5 400.33H177.5" stroke="#ececec" stroke-width=".7"/>
<path d="M22.5 413.2H177.5" stroke="#ececec" stroke-width=".7"/>
<path d="M22.5 426.07H177.5" stroke="#ececec" stroke-width=".7"/>
<path d="M22.5 438.93H177.5" stroke="#ececec" stroke-width=".7"/>
<path d="M22.5 451.8H177.5" stroke="#ececec" stroke-width=".7"/>
<polygon points="22.5,451.8 22.5,400.33 39.72,393.9 56.94,402.91 74.17,381.03 91.39,399.05 108.61,398.4 125.83,400.98 143.06,387.47 160.28,389.4 177.5,381.29 177.5,451.8" fill="#4472c4"/>
<text x="24.5" y="459.6" font-size="4.5" fill="#4a4a4a" text-anchor="middle">2010</text>
<text x="39.72" y="459.6" font-size="4.5" fill="#4a4a4a" text-anchor="middle">2011</text>
<text x="56.94" y="459.6" font-size="4.5" fill="#4a4a4a" text-anchor="middle">2012</text>
<text x="74.17" y="459.6" font-size="4.5" fill="#4a4a4a" text-anchor="middle">2013</text>
<text x="91.39" y="459.6" font-size="4.5" fill="#4a4a4a" text-anchor="middle">2014</text>
<text x="108.61" y="459.6" font-size="4.5" fill="#4a4a4a" text-anchor="middle">2015</text>
<text x="125.83" y="459.6" font-size="4.5" fill="#4a4a4a" text-anchor="middle">2016</text>
<text x="143.06" y="459.6" font-size="4.5" fill="#4a4a4a" text-anchor="middle">2017</text>
<text x="160.28" y="459.6" font-size="4.5" fill="#4a4a4a" text-anchor="middle">2018</text>
<text x="175.5" y="459.6" font-size="4.5" fill="#4a4a4a" text-anchor="middle">2019</text>
<rect x="9.5" y="473.5" width="177" height="106" fill="#fff" stroke="#f3f3f3" stroke-width="1"/>
<text x="98" y="481.7" font-size="6.6" fill="#404040" text-anchor="middle">Titre du graphique</text>
<text x="15" y="490.6" font-size="4.5" fill="#4a4a4a" text-anchor="end">6</text>
<text x="15" y="503.6" font-size="4.5" fill="#4a4a4a" text-anchor="end">5</text>
<text x="15" y="516.6" font-size="4.5" fill="#4a4a4a" text-anchor="end">4</text>
<text x="15" y="529.6" font-size="4.5" fill="#4a4a4a" text-anchor="end">3</text>
<text x="15" y="542.6" font-size="4.5" fill="#4a4a4a" text-anchor="end">2</text>
<path d="M17 489H170" stroke="#e4e4e4" stroke-width=".7"/>
<rect x="17" y="502.3" width="153" height="50" fill="#4472c4"/>
<path d="M93.7 502.3V550" stroke="#cfe0f8" stroke-width="1.8"/>
<path d="M55.5 529L132.7 488.4" stroke="#d98a55" stroke-width="1.4"/>
<text x="178.6" y="490.5" font-size="4.1" fill="#4a4a4a" text-anchor="middle">100%</text>
<text x="178.6" y="498.5" font-size="4.1" fill="#4a4a4a" text-anchor="middle">90%</text>
<text x="178.6" y="506.5" font-size="4.1" fill="#4a4a4a" text-anchor="middle">80%</text>
<text x="178.6" y="514.5" font-size="4.1" fill="#4a4a4a" text-anchor="middle">70%</text>
<text x="178.6" y="522.5" font-size="4.1" fill="#4a4a4a" text-anchor="middle">60%</text>
<text x="178.6" y="530.5" font-size="4.1" fill="#4a4a4a" text-anchor="middle">50%</text>
<text x="178.6" y="538.5" font-size="4.1" fill="#4a4a4a" text-anchor="middle">40%</text>
<text x="178.6" y="546.5" font-size="4.1" fill="#4a4a4a" text-anchor="middle">30%</text>
</svg>
<div class="abs" style="left:262px;top:620px;width:192px;height:11px;background:#fff"></div>
<div class="abs" style="left:455px;top:76px;width:17px;height:544px;background:#f0f0f0"></div>
<div class="abs" style="left:455px;top:95px;width:17px;height:473px;background:#cdcdcd"></div>
<svg style="left:458.5px;top:82.5px" width="10" height="6" viewBox="0 0 10 6"><path d="M0.7 5.3L5 1L9.3 5.3" fill="none" stroke="#222" stroke-width="1.5"/></svg>
<svg style="left:458.5px;top:607px" width="10" height="6" viewBox="0 0 10 6"><path d="M0.7 0.7L5 5L9.3 0.7" fill="none" stroke="#222" stroke-width="1.5"/></svg>
<div class="t" style="left:488px;top:81.5px;font-size:18.2px;color:#1a1a1a;transform:scaleX(0.9515);transform-origin:0 0">Courbe</div>
<div class="abs" style="left:487px;top:107px;width:422px;height:253px;border:1px solid #e6e6e6;border-bottom-color:#f2f2f2;border-left-color:#f0f0f0"></div>
<svg style="left:487px;top:107px" width="422" height="253" viewBox="0 0 422 253" font-family="Liberation Sans, sans-serif">
<text x="210.5" y="24.2" font-size="15.3" fill="#505050" stroke="#505050" stroke-width=".2" text-anchor="middle">Nombre de participants</text>
<path d="M33 43.00H408.5" stroke="#d9d9d9" stroke-width="1"/>
<text x="22.5" y="46.20" font-size="10.6" fill="#4c4c4c" stroke="#4c4c4c" stroke-width=".25" text-anchor="end">600</text>
<path d="M33 73.40H408.5" stroke="#d9d9d9" stroke-width="1"/>
<text x="22.5" y="76.60" font-size="10.6" fill="#4c4c4c" stroke="#4c4c4c" stroke-width=".25" text-anchor="end">500</text>
<path d="M33 103.80H408.5" stroke="#d9d9d9" stroke-width="1"/>
<text x="22.5" y="107.00" font-size="10.6" fill="#4c4c4c" stroke="#4c4c4c" stroke-width=".25" text-anchor="end">400</text>
<path d="M33 134.20H408.5" stroke="#d9d9d9" stroke-width="1"/>
<text x="22.5" y="137.40" font-size="10.6" fill="#4c4c4c" stroke="#4c4c4c" stroke-width=".25" text-anchor="end">300</text>
<path d="M33 164.60H408.5" stroke="#d9d9d9" stroke-width="1"/>
<text x="22.5" y="167.80" font-size="10.6" fill="#4c4c4c" stroke="#4c4c4c" stroke-width=".25" text-anchor="end">200</text>
<path d="M33 195.00H408.5" stroke="#d9d9d9" stroke-width="1"/>
<text x="22.5" y="198.20" font-size="10.6" fill="#4c4c4c" stroke="#4c4c4c" stroke-width=".25" text-anchor="end">100</text>
<path d="M33 225.40H408.5" stroke="#d9d9d9" stroke-width="1"/>
<text x="22.5" y="228.60" font-size="10.6" fill="#4c4c4c" stroke="#4c4c4c" stroke-width=".25" text-anchor="end">0</text>
<polyline points="51.00,103.80 88.56,88.60 126.12,109.88 163.68,58.20 201.24,100.76 238.80,99.24 276.36,105.32 313.92,73.40 351.48,77.96 389.04,58.81" fill="none" stroke="#4169b8" stroke-width="2.6" stroke-linejoin="round" stroke-linecap="round"/>
<text x="51.00" y="242.70" font-size="10.6" fill="#4c4c4c" stroke="#4c4c4c" stroke-width=".25" text-anchor="middle">2010</text>
<text x="88.56" y="242.70" font-size="10.6" fill="#4c4c4c" stroke="#4c4c4c" stroke-width=".25" text-anchor="middle">2011</text>
<text x="126.12" y="242.70" font-size="10.6" fill="#4c4c4c" stroke="#4c4c4c" stroke-width=".25" text-anchor="middle">2012</text>
<text x="163.68" y="242.70" font-size="10.6" fill="#4c4c4c" stroke="#4c4c4c" stroke-width=".25" text-anchor="middle">2013</text>
<text x="201.24" y="242.70" font-size="10.6" fill="#4c4c4c" stroke="#4c4c4c" stroke-width=".25" text-anchor="middle">2014</text>
<text x="238.80" y="242.70" font-size="10.6" fill="#4c4c4c" stroke="#4c4c4c" stroke-width=".25" text-anchor="middle">2015</text>
<text x="276.36" y="242.70" font-size="10.6" fill="#4c4c4c" stroke="#4c4c4c" stroke-width=".25" text-anchor="middle">2016</text>
<text x="313.92" y="242.70" font-size="10.6" fill="#4c4c4c" stroke="#4c4c4c" stroke-width=".25" text-anchor="middle">2017</text>
<text x="351.48" y="242.70" font-size="10.6" fill="#4c4c4c" stroke="#4c4c4c" stroke-width=".25" text-anchor="middle">2018</text>
<text x="389.04" y="242.70" font-size="10.6" fill="#4c4c4c" stroke="#4c4c4c" stroke-width=".25" text-anchor="middle">2019</text>
</svg>
<div class="t desc" style="left:487.6px;top:370.8px;font-size:12.2px;color:#111;-webkit-text-stroke:.25px #222;transform:scaleX(0.9634);transform-origin:0 0">Un graphique en courbes permet d'afficher des tendances dans le temps (années,</div>
<div class="t desc" style="left:487.6px;top:386.3px;font-size:12.2px;color:#111;-webkit-text-stroke:.25px #222;transform:scaleX(0.9791);transform-origin:0 0">mois et jours) ou des catégories quand l'ordre est important. Utilisez-le quand les</div>
<div class="t desc" style="left:487.6px;top:401.8px;font-size:12.2px;color:#111;-webkit-text-stroke:.25px #222;transform:scaleX(0.9897);transform-origin:0 0">points de données sont nombreux et l'ordre important.</div>
<div class="abs" style="left:781px;top:638px;width:77px;height:25px;background:#e1e1e1;border:2px solid #0078d7"></div>
<div class="t" style="left:811.7px;top:644.5px;font-size:12px;color:#111;-webkit-text-stroke:.2px #222;transform:scaleX(0.9055);transform-origin:0 0">OK</div>
<div class="abs" style="left:869.5px;top:638px;width:77px;height:25px;background:#e1e1e1;border:1px solid #adadad"></div>
<div class="t" style="left:888.7px;top:644.5px;font-size:12px;color:#111;-webkit-text-stroke:.2px #222;transform:scaleX(0.9259);transform-origin:0 0">Annuler</div>
<svg style="left:942px;top:661px" width="10" height="10" viewBox="0 0 10 10"><rect x="8" y="0" width="2" height="2" fill="#bdbdbd"/><rect x="8" y="4" width="2" height="2" fill="#bdbdbd"/><rect x="8" y="8" width="2" height="2" fill="#bdbdbd"/><rect x="4" y="4" width="2" height="2" fill="#bdbdbd"/><rect x="4" y="8" width="2" height="2" fill="#bdbdbd"/><rect x="0" y="8" width="2" height="2" fill="#bdbdbd"/></svg>

</div>
</body>
</html>
